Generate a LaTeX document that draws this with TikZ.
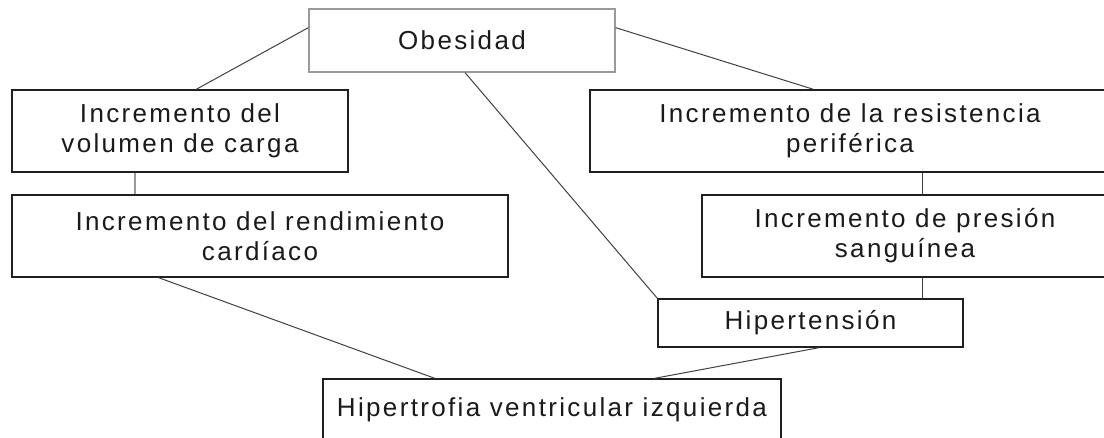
\documentclass[tikz,border=0pt]{standalone}
\usepackage{fontspec}
\setmainfont{Liberation Sans}[LetterSpace=9]
\usetikzlibrary{calc}
\definecolor{txt}{HTML}{1A1A1A}
\definecolor{edge}{HTML}{202020}
\definecolor{greyedge}{HTML}{9A9A9A}
\tikzset{
  box/.style={draw=edge, line width=1.3pt, rectangle, inner sep=0pt, align=center,
    text=txt, font=\fontsize{26}{30}\selectfont},
  link/.style={draw=edge!85, line width=1pt},
  greylink/.style={draw=greyedge, line width=2pt}
}
\begin{document}
\begin{tikzpicture}[x=1pt,y=-1pt]
\useasboundingbox (0,0) rectangle (1104,437);
\clip (0,0) rectangle (1104,437);
\fill[white] (0,0) rectangle (1104,437);
% nodes
\node[box, draw=greyedge, minimum width=306pt, minimum height=63pt] (ob) at (462,40.5) {Obesidad};
\node[box, minimum width=336pt, minimum height=82pt] (vol) at (180,131) {Incremento del\\volumen de carga};
\node[box, minimum width=496pt, minimum height=82pt] (rend) at (260,236) {Incremento del rendimiento\\cardíaco};
\node[box, minimum width=520pt, minimum height=82pt] (res) at (850,131) {Incremento de la resistencia\\periférica};
\node[box, minimum width=406pt, minimum height=82pt] (pres) at (905,236) {Incremento de presión\\sanguínea};
\node[box, minimum width=305pt, minimum height=48pt] (hip) at (810.5,323) {Hipertensión};
\node[box, minimum width=458pt, minimum height=62pt] (hvi) at (552,410) {Hipertrofia ventricular izquierda};
% connector anchors
\coordinate (volb) at ($(vol.south west)!0.366!(vol.south east)$);
\coordinate (resb) at ($(res.south west)!0.64!(res.south east)$);
% connectors
\draw[link] ($(ob.north west)!0.30!(ob.south west)$) -- ($(vol.north west)!0.548!(vol.north east)$);
\draw[link] ($(ob.north east)!0.30!(ob.south east)$) -- ($(res.north west)!0.43!(res.north east)$);
\draw[link] ($(ob.south west)!0.51!(ob.south east)$) -- (hip.north west);
\draw[greylink] (volb) -- (volb |- rend.north);
\draw[link] (resb) -- (resb |- pres.north);
\draw[link] (resb |- pres.south) -- (resb |- hip.north);
\draw[link] ($(rend.south west)!0.296!(rend.south east)$) -- ($(hvi.north west)!0.245!(hvi.north east)$);
\draw[link] ($(hip.south west)!0.528!(hip.south east)$) -- ($(hvi.north west)!0.723!(hvi.north east)$);
\end{tikzpicture}
\end{document}
